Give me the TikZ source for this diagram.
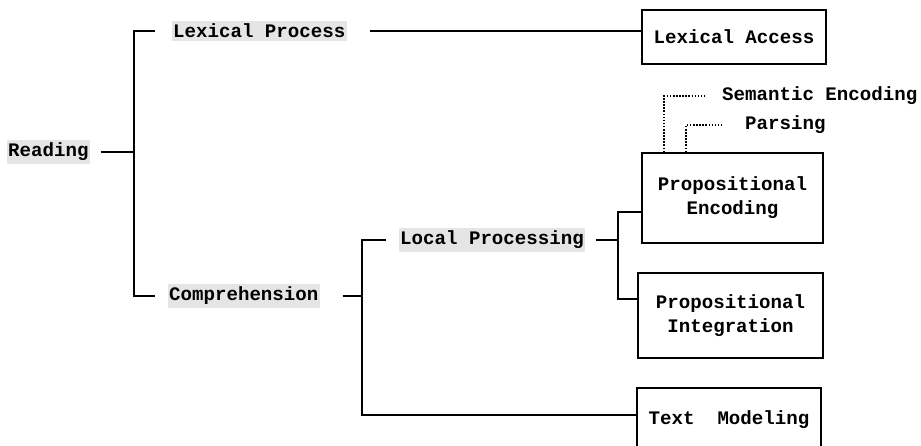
\documentclass[tikz,border=0pt]{standalone}
\usepackage{fontspec}
\setmainfont{Liberation Mono}
\usepackage{tikz}
\usetikzlibrary{positioning, calc}

\tikzset{
    lbl/.style={font=\fontsize{13.6}{16}\selectfont\bfseries, inner xsep=1pt, inner ysep=2pt},
    hilite/.style={lbl, fill=gray!20},
    procbox/.style={draw, line width=1.1pt, font=\fontsize{13.6}{17}\selectfont\bfseries, align=center, inner sep=0pt},
    dotline/.style={line width=1.2pt, dash pattern=on 1.1pt off 1.1pt}
}

\begin{document}
\begin{tikzpicture}[x=0.025cm, y=-0.025cm, line width=1.1pt]
        \clip (0,0) rectangle (921,446);

        % Labels along the tree
        \node[hilite, anchor=west] (read) at (6,152) {Reading};
        \node[hilite, anchor=west] (lexp) at (171,31) {Lexical Process};
        \node[hilite, anchor=west] (comp) at (167,296) {Comprehension};
        \node[hilite, anchor=west] (locp) at (398,240) {Local Processing};

        % Boxes
        \node[procbox, minimum width=4.6cm, minimum height=1.35cm] (lexacc) at (734,37) {Lexical Access};
        \node[procbox, minimum width=4.525cm, minimum height=2.25cm] (penc) at (732.5,198) {Propositional\\Encoding};
        \node[procbox, minimum width=4.625cm, minimum height=2.125cm] (pint) at (730.5,315.5) {Propositional\\Integration};
        \node[procbox, minimum width=4.6cm, minimum height=1.6cm] (tmod) at (729,420) {Text\ \ Modeling};

        % Sub-processes
        \node[lbl, anchor=west] (sem) at (720,96) {Semantic Encoding};
        \node[lbl, anchor=west] (pars) at (743,125) {Parsing};

        % Junctions
        \coordinate (j1) at (134,152);
        \coordinate (j2) at (362,296);
        \coordinate (j3) at (618,240);

        % Connectors
        \draw[shorten <=0.25cm] (read.east) -- (j1);
        \draw ([xshift=-0.4cm]lexp.west) -| (j1) |- ([xshift=-0.3cm]comp.west);
        \draw[shorten <=0.55cm] (lexp.east) -- (lexp.east -| lexacc.west);
        \draw[shorten <=0.55cm] (comp.east) -- (j2);
        \draw ([xshift=-0.3cm]locp.west) -| (j2) |- ([yshift=0.125cm]tmod.west);
        \draw[shorten <=0.25cm] (locp.east) -- (j3);
        \draw ([yshift=-0.35cm]penc.west) -| (j3) |- ([yshift=0.41cm]pint.west);

        % Dotted links
        \draw[dotline, shorten >=0.35cm] ([xshift=0.575cm]penc.north west) |- (sem.west);
        \draw[dotline, shorten >=0.5cm] ([xshift=1.125cm]penc.north west) |- (pars.west);
    \end{tikzpicture}
\end{document}
